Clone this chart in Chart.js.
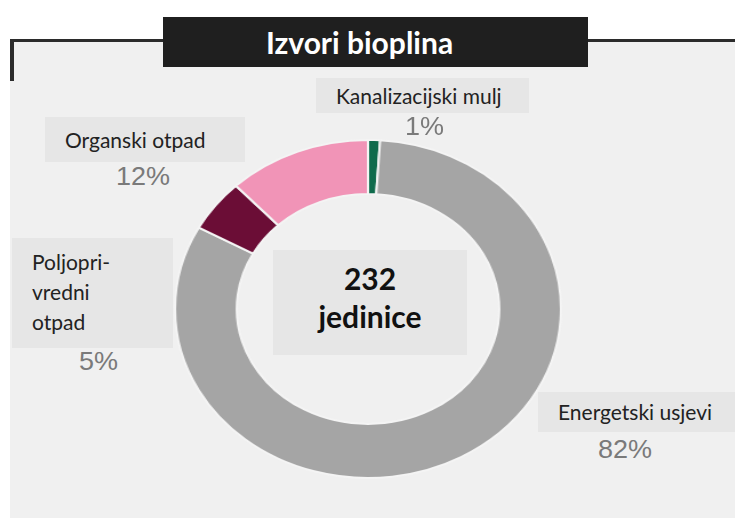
<!DOCTYPE html>
<html>
<head>
<meta charset="utf-8">
<script src="https://cdn.jsdelivr.net/npm/chart.js@4.4.1/dist/chart.umd.min.js"></script>
<style>
    body { margin: 0; width: 735px; height: 518px; background: #fff; position: relative; overflow: hidden; font-family: "Lato", "Open Sans", sans-serif; }
    #panel { position: absolute; left: 10px; top: 39px; right: 0; bottom: 0; background: #f0f0f0; border-top: 3px solid #2b2b2b; }
    #panelEdge { position: absolute; left: 10px; top: 39px; width: 4px; height: 42px; background: #2b2b2b; }
    #title { position: absolute; left: 163px; top: 17px; width: 425px; height: 50px; padding-right: 32px; box-sizing: border-box; background: #1f1f1f; color: #fff; font-weight: bold; font-size: 30px; line-height: 50px; text-align: center; }
    #wrap { position: absolute; left: 198px; top: 139px; width: 340px; height: 340px; transform: scaleX(1.142); transform-origin: 50% 50%; }
    .lbl { position: absolute; background: #e6e6e6; color: #222; font-size: 21px; box-sizing: border-box; white-space: nowrap; }
    .pct { position: absolute; color: #7a7a7a; font-family: "Liberation Sans", Arial, sans-serif; font-size: 25px; transform: scaleX(1.08); transform-origin: 0 0; }
    #center { position: absolute; left: 273px; top: 250px; width: 194px; height: 105px; background: #e6e6e6; text-align: center; font-weight: bold; font-size: 30px; line-height: 38px; padding-top: 9px; box-sizing: border-box; color: #111; }
</style>
</head>
<body>
<div id="panel"></div>
<div id="panelEdge"></div>
<div id="title">Izvori bioplina</div>
<div id="wrap"><canvas id="donut" width="340" height="340"></canvas></div>
<div id="center"></div>
<script>
// data, clockwise from the top
const categories = ["Kanalizacijski mulj", "Energetski usjevi", "Poljoprivredni otpad", "Organski otpad"];
const labelLines = [["Kanalizacijski mulj"], ["Energetski usjevi"], ["Poljopri-", "vredni", "otpad"], ["Organski otpad"]];
const shares = [1, 82, 5, 12];
const totalUnits = 232;
const unitName = "jedinice";

const colors = ["#0f6b4c", "#a5a5a5", "#6b0d36", "#f194b7"];

// where each label box and percent sits
const boxPos = [
    { x: 316, y: 78, w: 213, h: 35, pad: 20 },
    { x: 538, y: 392, w: 197, h: 40, pad: 20 },
    { x: 12, y: 238, w: 161, h: 110, pad: 20 },
    { x: 45, y: 117, w: 200, h: 45, pad: 20 }
];
const pctPos = [
    { x: 405, y: 112 },
    { x: 598, y: 435 },
    { x: 79, y: 347 },
    { x: 116, y: 162 }
];

categories.forEach((c, i) => {
    const b = document.createElement("div");
    b.className = "lbl";
    b.style.left = boxPos[i].x + "px";
    b.style.top = boxPos[i].y + "px";
    b.style.width = boxPos[i].w + "px";
    b.style.height = boxPos[i].h + "px";
    b.style.paddingLeft = boxPos[i].pad + "px";
    if (labelLines[i].length > 1) {
        b.style.lineHeight = "30px";
        b.style.paddingTop = "9px";
    } else {
        b.style.lineHeight = boxPos[i].h + "px";
    }
    b.innerHTML = labelLines[i].join("<br>");
    document.body.appendChild(b);

    const p = document.createElement("div");
    p.className = "pct";
    p.style.left = pctPos[i].x + "px";
    p.style.top = pctPos[i].y + "px";
    p.textContent = shares[i] + "%";
    document.body.appendChild(p);
});

document.getElementById("center").innerHTML = totalUnits + "<br>" + unitName;

new Chart(document.getElementById("donut"), {
    type: "doughnut",
    data: {
        labels: categories,
        datasets: [{
            data: shares,
            backgroundColor: colors,
            borderColor: "#f4f4f4",
            borderWidth: 2
        }]
    },
    options: {
        responsive: false,
        animation: false,
        cutout: "68%",
        layout: { padding: 0 },
        plugins: {
            legend: { display: false },
            tooltip: { enabled: false }
        }
    }
});
</script>
</body>
</html>
